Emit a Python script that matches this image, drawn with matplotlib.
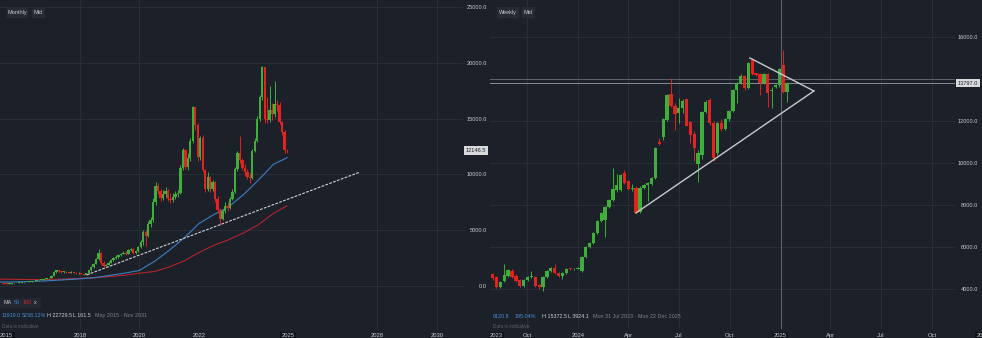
import numpy as np
import pandas as pd
import matplotlib
matplotlib.use("Agg")
import matplotlib.pyplot as plt
import matplotlib.transforms as mtransforms

plt.rcParams['font.family'] = ['Liberation Sans', 'DejaVu Sans']

BG = '#1b2029'
GRID = '#292e37'
TXT = '#c9ccd1'
DIM = '#7d828b'
UP = '#3fae3a'
DOWN = '#e2231f'
BLUE = '#3d7fc4'
RED_MA = '#b3262b'

# monthly candles, May 2015 .. Dec 2024 (open = previous close)
m_first_open = 250
m_close = [230, 210, 190, 220, 260, 240, 270, 300,
           320, 340, 360, 400, 430, 460, 500, 540, 580, 630, 680, 720,
           900, 1250, 1400, 1300, 1250, 1280, 1220, 1200, 1260, 1200, 1150, 1180,
           1100, 1020, 1150, 1400, 1700, 2000, 2400, 3000, 2100, 1800, 1900, 2100,
           2300, 2500, 2600, 2800, 2900, 3000, 2900, 3200, 3300, 3000, 3100, 3500,
           3900, 4800, 4500, 5600, 5900, 7500, 9000, 8500, 7900, 8200, 8500, 7800,
           7700, 8000, 8200, 8300, 10600, 12200, 10700, 11500, 13000, 16000, 14400, 11600,
           13300, 10400, 8700, 9800, 8700, 9300, 7800, 6800, 6000, 6700, 7200, 7000,
           7800, 8400, 10500, 11900, 11300, 10600, 10200, 9800, 9700, 12100, 13000, 15000,
           16900, 19600, 15000, 14900, 15800, 15400, 16300, 16200, 14700, 13800, 12200, 12146.5]
m_high = [280, 260, 230, 240, 290, 280, 290, 330,
          350, 360, 390, 420, 460, 490, 530, 570, 610, 660, 710, 760,
          950, 1300, 1450, 1420, 1330, 1340, 1300, 1260, 1300, 1280, 1230, 1220,
          1200, 1120, 1200, 1450, 1750, 2100, 2500, 3300, 3050, 2200, 2000, 2200,
          2400, 2600, 2750, 2900, 3000, 3150, 3100, 3300, 3450, 3400, 3250, 3600,
          4100, 5000, 5000, 5800, 6200, 7900, 9300, 9200, 8700, 8600, 8900, 8700,
          8300, 8300, 8500, 8600, 10800, 12400, 12300, 11900, 13300, 16100, 16000, 14600,
          13400, 13500, 10500, 10200, 9900, 9500, 9400, 8100, 7000, 6900, 7500, 7500,
          8000, 8700, 10700, 12100, 13400, 11500, 10900, 10500, 10100, 12300, 13300, 15200,
          17100, 19700, 19600, 16900, 17900, 16400, 18400, 16700, 16500, 14800, 14000, 12300]
m_low = [200, 180, 162, 180, 210, 220, 230, 260,
         290, 310, 330, 350, 390, 420, 450, 490, 530, 570, 620, 670,
         700, 880, 1200, 1250, 1180, 1200, 1180, 1140, 1160, 1150, 1100, 1110,
         1060, 980, 990, 1120, 1350, 1650, 1950, 2350, 2000, 1700, 1750, 1850,
         2050, 2250, 2400, 2550, 2700, 2850, 2750, 2850, 3100, 2900, 2900, 3050,
         3400, 3700, 3600, 4400, 5300, 5700, 7300, 8200, 7600, 7700, 8000, 7600,
         7400, 7500, 7800, 8000, 8200, 10400, 10500, 10400, 11200, 12800, 14000, 11200,
         11300, 10200, 8400, 8500, 8400, 8500, 7500, 6500, 5470, 5900, 6500, 6700,
         6900, 7700, 8300, 10300, 11000, 10400, 9900, 9600, 9200, 9600, 12000, 12900,
         14800, 16700, 14600, 14600, 14700, 14900, 15100, 15700, 14500, 13500, 11900, 11900]

# moving averages (decimal year, value)
ma_t = [2015.31, 2015.5, 2016.0, 2016.5, 2017.0, 2017.5, 2018.0, 2018.5, 2019.0, 2019.5, 2020.0,
        2020.5, 2021.0, 2021.5, 2022.0, 2022.5, 2023.0, 2023.5, 2024.0, 2024.5, 2024.96]
ma50 = [360, 360, 380, 420, 480, 560, 640, 750, 950, 1150, 1400,
        2200, 3200, 4300, 5600, 6400, 7100, 8200, 9500, 10900, 11500]
ma100 = [620, 610, 590, 580, 600, 630, 680, 750, 850, 960, 1150,
         1300, 1700, 2250, 3000, 3650, 4150, 4750, 5500, 6500, 7200]

trend_t = [2018.23, 2027.41]
trend_p = [1000, 10210]

# weekly candles from Mon 31 Jul 2023
w_open = [4710, 4570, 4100, 4380, 4620, 4860, 4620, 4430, 4140, 4430, 4570, 4570, 4190, 4100, 4570,
          4860, 5000, 4760, 4620, 4760, 4980, 4930, 4960, 4860, 5520, 6000, 6190, 6670, 7240, 7300,
          7900, 8240, 8710, 8710, 9520, 9140, 8760, 8810, 7670, 8810, 8950, 9000, 9290, 11000, 11240,
          12050, 13290, 12710, 12380, 12620, 13050, 11950, 11380, 9950, 10380, 12430, 12990, 11900, 10480, 11900,
          11620, 12090, 12480, 13480, 13810, 14140, 13570, 14910, 14290, 14240, 13810, 14240, 13430, 13620, 13710,
          14670, 13380]
w_high = [4780, 4620, 4380, 5190, 4950, 4950, 4700, 4480, 4480, 4620, 4860, 4620, 4240, 4620, 4900,
          5050, 5190, 4810, 4810, 5000, 5020, 5000, 5050, 5570, 6050, 6240, 6720, 7290, 7670, 7950,
          8290, 9760, 9480, 9480, 9660, 9200, 9000, 8900, 8900, 9000, 9100, 9340, 10760, 11200, 12140,
          13290, 14050, 12850, 13100, 13050, 13100, 12000, 11500, 10600, 12480, 12990, 13100, 12000, 11950, 12100,
          12150, 12520, 13530, 13860, 14240, 14190, 14810, 15000, 14300, 14290, 14290, 14290, 13620, 13760, 14530,
          15372.5, 13860]
w_low = [4450, 4050, 4050, 4330, 4570, 4520, 4330, 4100, 4100, 4380, 4520, 4100, 4000, 3924.1, 4520,
         4810, 4710, 4570, 4480, 4710, 4900, 4900, 4930, 4810, 5480, 5950, 6140, 6620, 7190, 6480,
         7850, 8190, 8620, 8660, 9000, 8710, 8670, 7620, 7620, 8760, 8200, 8950, 9240, 10850, 11100,
         12000, 12660, 11570, 11900, 12400, 11760, 10950, 10100, 9100, 10200, 12380, 11800, 10100, 10400, 11500,
         11550, 12000, 12430, 12860, 13760, 13500, 13520, 14190, 14150, 13240, 13760, 12670, 12620, 13570, 13620,
         13330, 12900]
w_close = [4520, 4100, 4330, 4670, 4900, 4570, 4380, 4140, 4430, 4570, 4620, 4140, 4100, 4570, 4860,
           5000, 4760, 4620, 4760, 4950, 4930, 4960, 4990, 5520, 6000, 6190, 6670, 7240, 7620, 7900,
           8240, 8760, 8950, 9430, 9050, 8760, 8810, 7620, 8810, 8950, 9050, 9290, 10710, 10900, 12090,
           13240, 12710, 12330, 12620, 12950, 11760, 11330, 10710, 10480, 12430, 12900, 11900, 10240, 11900, 11620,
           12090, 12480, 13480, 13810, 14140, 13570, 14760, 14240, 14190, 13810, 14240, 13330, 13480, 13710, 14480,
           13380, 13797]

tri_t = [2024.286, 2025.165, 2024.849]
tri_p = [7620, 13430, 15000]

W, H = 982, 338
fig = plt.figure(figsize=(W / 100, H / 100), dpi=100, facecolor=BG)


def px_axes(x0, x1, y0, y1):
    return fig.add_axes([x0 / W, 1 - y1 / H, (x1 - x0) / W, (y1 - y0) / H])


def dec_year(d):
    days = np.where(d.is_leap_year, 366, 365)
    return np.asarray(d.year + (d.dayofyear - 1) / days, dtype=float)


def candles(ax, t, o, h, l, c, width, minh):
    o, h, l, c = map(np.asarray, (o, h, l, c))
    cols = np.where(c >= o, UP, DOWN)
    ax.vlines(t, l, h, colors=cols, lw=0.7, zorder=3)
    ax.bar(t, np.maximum(np.abs(c - o), minh), width, bottom=np.minimum(o, c),
           color=cols, linewidth=0, zorder=4)


def style(ax, grid_y, label_y, ylim, xlim, pad_px):
    ax.set_facecolor(BG)
    for s in ax.spines.values():
        s.set_visible(False)
    ax.set_xlim(*xlim)
    ax.set_ylim(*ylim)
    ax.set_yticks(label_y)
    ax.set_yticklabels(['%.1f' % v for v in label_y])
    ax.yaxis.tick_right()
    ax.tick_params(axis='y', length=0, pad=pad_px * 0.72, labelsize=4.1, labelcolor=TXT)
    for lab in ax.get_yticklabels():
        lab.set_ha('right')
    ax.set_xticks([])
    for v in grid_y:
        ax.axhline(v, color=GRID, lw=0.7, zorder=0)


def xlabel(ax, t, s, boxed=False, ha='center'):
    kw = dict(transform=ax.get_xaxis_transform(), ha=ha, va='center', fontsize=4.2,
              color=TXT, clip_on=False)
    if boxed:
        kw['bbox'] = dict(boxstyle='square,pad=0.25', fc='#10141a', ec='none')
    ax.text(t, -0.02, s, **kw)


def price_tag(ax, v, s):
    tr = mtransforms.blended_transform_factory(ax.transAxes, ax.transData)
    ax.text(1.006, v, s, transform=tr, ha='left', va='center', fontsize=4.1, color='#1b2029',
            bbox=dict(boxstyle='square,pad=0.3', fc='#d9dadc', ec='none'), clip_on=False, zorder=6)


def ftext(x, y, s, color=TXT, size=3.9, **kw):
    fig.text(x / W, 1 - y / H, s, color=color, fontsize=size, va='center', **kw)


def button(x0, x1, s):
    fig.patches.append(plt.Rectangle((x0 / W, 1 - 18 / H), (x1 - x0) / W, 11 / H,
                                     transform=fig.transFigure, fc='#262b34', ec='none'))
    ftext((x0 + x1) / 2, 12.5, s, ha='center', size=4.0)


# ---------------- monthly panel ----------------
axL = px_axes(0, 463, 0, 329)
left_levels = [0, 5000, 10000, 15000, 20000, 25000]
style(axL, left_levels, left_levels, (-3853, 25628), (2015.311, 2030.874), 24)
for yr in [2018, 2020, 2028, 2030]:
    axL.axvline(yr, color=GRID, lw=0.7, zorder=0)

months = pd.date_range('2015-05-01', periods=len(m_close), freq='MS')
mt = np.asarray(months.year + (months.month - 1) / 12 + 1 / 24, dtype=float)
m_open = [m_first_open] + m_close[:-1]
candles(axL, mt, m_open, m_high, m_low, m_close, 0.078, 50)

axL.plot(ma_t, ma100, color=RED_MA, lw=0.8, zorder=2)
axL.plot(ma_t, ma50, color=BLUE, lw=0.8, zorder=2)
axL.plot(trend_t, trend_p, color='#cfd1d4', lw=0.8, ls=(0, (2.5, 1.2)), zorder=5)

xlabel(axL, 2015.311, '2015', boxed=True, ha='left')
for yr in [2018, 2020, 2022, 2028, 2030]:
    xlabel(axL, yr, str(yr))
xlabel(axL, 2025, '2025', boxed=True)
price_tag(axL, m_close[-1], '%.1f' % m_close[-1])

button(7, 28, 'Monthly')
button(32, 45, 'Mid')
fig.patches.append(plt.Rectangle((0, 1 - 308 / H), 41 / W, 10 / H, transform=fig.transFigure,
                                 fc='#222731', ec='none'))
ftext(3, 303, 'MA')
ftext(13.5, 303, '50', color=BLUE)
ftext(23, 303, '100', color='#d2292c')
ftext(34, 303, 'x')
ftext(2, 315.5, '11919.0', color='#4a8fd6')
ftext(22, 315.5, '5238.12%', color='#4a8fd6')
ftext(47, 315.5, 'H 22729.5')
ftext(73, 315.5, 'L 161.5')
ftext(95, 315.5, 'May 2015 - Nov 2031', color=DIM)
ftext(2, 326.5, 'Data is indicative', color='#5d626b', size=3.4)

# ---------------- weekly panel ----------------
axR = px_axes(490, 955, 0, 329)
style(axR, [4000, 6000, 8000, 10000, 12000, 16000], [4000, 6000, 8000, 10000, 12000, 16000],
      (2095, 17762), (2023.5654, 2025.8617), 23)

q_dates = pd.to_datetime(['2023-10-01', '2024-01-01', '2024-04-01', '2024-07-01', '2024-10-01',
                          '2025-01-01', '2025-04-01', '2025-07-01', '2025-10-01', '2026-01-01'])
q_labels = ['Oct', '2024', 'Apr', 'Jul', 'Oct', '2025', 'Apr', 'Jul', 'Oct', '2026']
qt = dec_year(q_dates)
for t, s in zip(qt, q_labels):
    if s == '2025':
        axR.axvline(t, color='#5c616a', lw=0.8, zorder=1)
    elif t < 2025.86:
        axR.axvline(t, color=GRID, lw=0.7, zorder=0)
    xlabel(axR, t, s, boxed=(s in ('2025', '2026')))
xlabel(axR, 2023.5654, '2023', boxed=True, ha='left')

axR.axhline(14000, color='#5f646d', lw=0.7, zorder=1)
axR.axhline(w_close[-1], color='#8a8e96', lw=0.7, zorder=1)

weeks = pd.date_range('2023-07-31', periods=len(w_close), freq='7D')
wt = dec_year(weeks)
candles(axR, wt, w_open, w_high, w_low, w_close, 0.0165, 25)

axR.plot(tri_t[:2], tri_p[:2], color='#c8cacd', lw=1.0, zorder=5)
axR.plot(tri_t[1:], tri_p[1:], color='#c8cacd', lw=1.0, zorder=5)
price_tag(axR, w_close[-1], '%.1f' % w_close[-1])

button(497, 519, 'Weekly')
button(522, 535, 'Mid')
ftext(493, 316, '9120.8', color='#4a8fd6')
ftext(515, 316, '195.04%', color='#4a8fd6')
ftext(542, 316, 'H 15372.5')
ftext(568, 316, 'L 3924.1')
ftext(593, 316, 'Mon 31 Jul 2023 - Mon 22 Dec 2025', color=DIM)
ftext(493, 327, 'Data is indicative', color='#5d626b', size=3.4)

fig.savefig('out.png', dpi=100, facecolor=BG)
